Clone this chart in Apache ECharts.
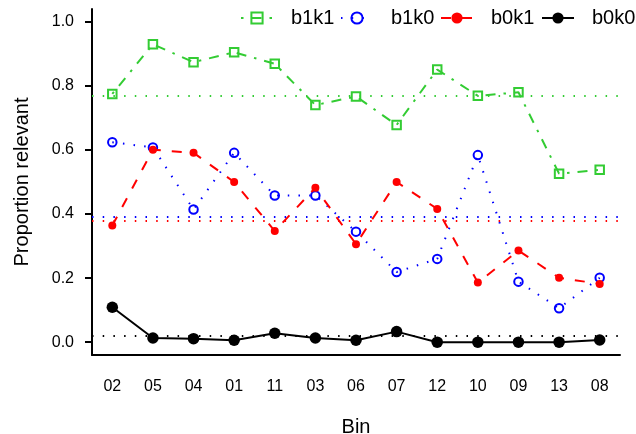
<!DOCTYPE html>
<html>
<head>
<meta charset="utf-8">
<script src="https://cdn.jsdelivr.net/npm/echarts@6/dist/echarts.min.js"></script>
<style>html,body{margin:0;padding:0;background:#fff}#c{width:636px;height:434px}</style>
</head>
<body>
<div id="c"></div>
<script>
var bins = ['02','05','04','01','11','03','06','07','12','10','09','13','08'];
var b1k1 = [0.775,0.930,0.874,0.905,0.869,0.740,0.767,0.678,0.851,0.769,0.780,0.526,0.538];
var b1k0 = [0.624,0.608,0.414,0.591,0.458,0.458,0.345,0.219,0.260,0.584,0.189,0.106,0.201];
var b0k1 = [0.364,0.601,0.591,0.500,0.347,0.482,0.306,0.500,0.416,0.186,0.286,0.201,0.182];
var b0k0 = [0.109,0.013,0.011,0.006,0.028,0.013,0.006,0.033,0.000,0.000,0.000,0.000,0.007];
var means = {b1k1:0.770, b1k0:0.389, b0k1:0.383, b0k0:0.018};
var yTicks = [0.0,0.2,0.4,0.6,0.8,1.0];

var FONT = 'Liberation Sans, Arial, sans-serif';
var GREEN = '#33cc33', BLUE = '#0000ff', RED = '#ff0000', BLACK = '#000000';
var DOT = [1.5, 9.2];

function meanLine(v, color) {
  return {
    silent: true, symbol: 'none', label: {show: false},
    lineStyle: {color: color, width: 2, type: DOT},
    data: [{yAxis: v}]
  };
}

var chart = echarts.init(document.getElementById('c'), null, {renderer: 'canvas'});

function leg(name, left) {
  return {
    data: [name], left: left, top: 8, padding: 0, itemWidth: 32, itemHeight: 14,
    textStyle: {fontSize: 20, color: '#000', fontFamily: FONT, padding: [0,0,0,13]},
    selectedMode: false
  };
}

chart.setOption({
  animation: false,
  backgroundColor: '#fff',
  textStyle: {fontFamily: FONT},
  grid: {left: 92, right: 16, top: 9, bottom: 79, containLabel: false, outerBoundsMode: 'none'},
  legend: [leg('b1k1', 240), leg('b1k0', 340), leg('b0k1', 440), leg('b0k0', 541)],
  xAxis: {
    type: 'category', data: bins, boundaryGap: true,
    name: 'Bin', nameLocation: 'middle', nameGap: 62,
    nameTextStyle: {fontSize: 20, color: '#000', fontFamily: FONT},
    axisLine: {onZero: false, lineStyle: {color: '#000', width: 2}},
    axisTick: {alignWithLabel: true, length: 7, lineStyle: {color: '#000', width: 2}},
    axisLabel: {fontSize: 16, color: '#000', margin: 24, fontFamily: FONT},
    splitLine: {show: false}
  },
  yAxis: {
    type: 'value', min: -0.04, max: 1.04,
    name: 'Proportion relevant', nameLocation: 'middle', nameGap: 60, nameRotate: 90,
    nameTextStyle: {fontSize: 20, color: '#000', fontFamily: FONT},
    axisLine: {show: true, lineStyle: {color: '#000', width: 2}},
    axisTick: {show: true, length: 7, customValues: yTicks, lineStyle: {color: '#000', width: 2}},
    axisLabel: {fontSize: 16, color: '#000', margin: 18, fontFamily: FONT, customValues: yTicks,
      formatter: function (v) { return v.toFixed(1); }},
    splitLine: {show: false}
  },
  series: [
    {
      name: 'b1k1', type: 'line', data: b1k1, symbol: 'rect', symbolSize: 8.5,
      lineStyle: {color: GREEN, width: 2, type: [2.5, 8, 10, 8]},
      itemStyle: {color: 'rgba(255,255,255,0)', borderColor: GREEN, borderWidth: 2},
      markLine: meanLine(means.b1k1, GREEN), z: 2
    },
    {
      name: 'b1k0', type: 'line', data: b1k0, symbol: 'circle', symbolSize: 8.5,
      lineStyle: {color: BLUE, width: 2, type: DOT},
      itemStyle: {color: 'rgba(255,255,255,0)', borderColor: BLUE, borderWidth: 2},
      markLine: meanLine(means.b1k0, BLUE), z: 3
    },
    {
      name: 'b0k1', type: 'line', data: b0k1, symbol: 'circle', symbolSize: 8,
      lineStyle: {color: RED, width: 2, type: [10, 11]},
      itemStyle: {color: RED, borderWidth: 0},
      markLine: meanLine(means.b0k1, RED), z: 4
    },
    {
      name: 'b0k0', type: 'line', data: b0k0, symbol: 'circle', symbolSize: 11.5,
      lineStyle: {color: BLACK, width: 2, type: 'solid'},
      itemStyle: {color: BLACK, borderWidth: 0},
      markLine: meanLine(means.b0k0, BLACK), z: 5
    }
  ]
});
</script>
</body>
</html>
